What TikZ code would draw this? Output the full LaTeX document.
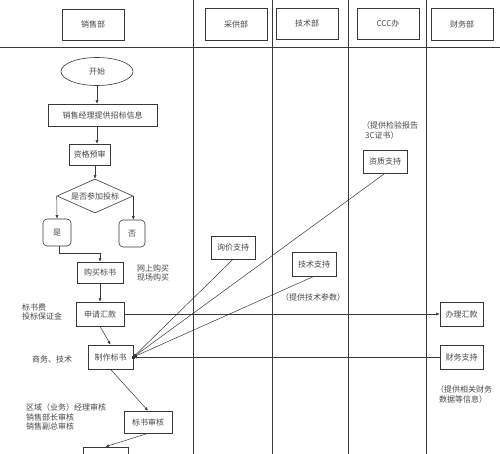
\documentclass[tikz,border=0pt]{standalone}
\usepackage{fontspec}
\newfontfamily\cjk{Noto Sans CJK SC}
\usetikzlibrary{shapes.geometric,arrows.meta}
\definecolor{ln}{gray}{0.22}
\definecolor{tx}{gray}{0.28}
\tikzset{
  every node/.style={font=\cjk\fontsize{8}{9.6}\selectfont, text=tx},
  box/.style={draw=ln, line width=0.6pt, inner sep=0pt, align=center},
  lane/.style={draw=ln, line width=0.7pt},
  conn/.style={draw=ln, line width=0.5pt},
  arr/.style={conn, -{Latex[length=3.5pt,width=3pt]}},
  note/.style={inner sep=0pt, align=left},
}
\begin{document}
\begin{tikzpicture}[x=1pt,y=-1pt]
\useasboundingbox (0,0) rectangle (500,454);
\clip (0,0) rectangle (500,454);
\fill[white] (0,0) rectangle (500,454);
% lanes
\coordinate (l1t) at (193,0); \coordinate (l1b) at (193,454);
\coordinate (l2t) at (272,0); \coordinate (l2b) at (272,454);
\coordinate (l3t) at (348,0); \coordinate (l3b) at (348,454);
\coordinate (l4t) at (426,0); \coordinate (l4b) at (426,454);
\coordinate (hl) at (0,47.5); \coordinate (hr) at (500,47.5);
\draw[lane] (l1t) -- (l1b);
\draw[lane] (l2t) -- (l2b);
\draw[lane] (l3t) -- (l3b);
\draw[lane] (l4t) -- (l4b);
\draw[lane] (hl) -- (hr);
% headers
\node[box, minimum width=62pt, minimum height=31pt] (h1) at (93,24.5) {销售部};
\node[box, minimum width=62pt, minimum height=32pt] (h2) at (236,24) {采供部};
\node[box, minimum width=62pt, minimum height=31pt] (h3) at (307,23.5) {技术部};
\node[box, minimum width=62pt, minimum height=31pt] (h4) at (388,23.5) {CCC办};
\node[box, minimum width=62pt, minimum height=32pt] (h5) at (462,24) {财务部};
% sales lane
\node[box, ellipse, minimum width=72pt, minimum height=28pt] (start) at (97,71.5) {开始};
\node[box, minimum width=109pt, minimum height=22pt] (n1) at (102.5,115) {销售经理提供招标信息};
\node[box, minimum width=41pt, minimum height=21pt] (n2) at (89.5,154.5) {资格预审};
\node[box, diamond, aspect=2.2, minimum width=76pt, minimum height=34pt] (d) at (95,196) {是否参加投标};
\node[box, rounded corners=4pt, minimum width=28pt, minimum height=27pt] (yes) at (57,232.5) {是};
\node[box, rounded corners=4pt, minimum width=26pt, minimum height=27pt] (no) at (132,233.5) {否};
\node[box, minimum width=46pt, minimum height=21pt] (n3) at (100,272.5) {购买标书};
\node[box, minimum width=48pt, minimum height=24pt] (n4) at (100,314) {申请汇款};
\node[box, minimum width=45pt, minimum height=24pt] (n5) at (110.5,357) {制作标书};
\node[box, minimum width=48pt, minimum height=22pt] (n6) at (148,422) {标书审核};
\node[box, minimum width=45pt, minimum height=24pt] (n7) at (105.5,459) {};
% other lanes
\node[box, minimum width=44pt, minimum height=23pt] (s1) at (233,247.5) {询价支持};
\node[box, minimum width=44pt, minimum height=23pt] (s2) at (385,161.5) {资质支持};
\node[box, minimum width=44pt, minimum height=24pt] (s3) at (314,264) {技术支持};
\node[box, minimum width=43pt, minimum height=24pt] (s4) at (461.5,314) {办理汇款};
\node[box, minimum width=43pt, minimum height=24pt] (s5) at (461.5,357) {财务支持};
% notes
\node[note, align=center] (t1) at (153,273) {网上购买\\现场购买};
\node[note, anchor=west] (t2) at (22,312) {标书费\\投标保证金};
\node[note] (t3) at (52,359) {商务、技术};
\node[note, anchor=west] (t4) at (26,417) {区域（业务）经理审核\\销售部长审核\\销售副总审核};
\node[note, anchor=west] (t5) at (362,130.5) {（提供检验报告\\\hspace*{3pt}3C证书）};
\node[note] (t6) at (313,297) {（提供技术参数）};
\node[note, anchor=west] (t7) at (436,394.5) {（提供相关财务\\\hspace*{3pt}数据等信息）};
% connectors
\draw[arr] (start.south) -- (n1.north -| start.south);
\draw[arr] (n1.south -| start.south) -- (n2.north -| start.south);
\draw[arr] (n2.south -| d.north) -- (d.north);
\draw[arr] (d.west) -- (yes.north);
\draw[arr] (d.east) -- (d.east |- no.north);
\draw[arr] ([xshift=2pt]yes.south) -- ++(0,7) -| (n3.north);
\draw[arr] (n3.south) -- (n4.north);
\draw[arr] (n4.south) -- (n5.north);
\draw[arr] (n4.east) -- (s4.west);
\draw[arr] (s1.south) -- (n5.east);
\draw[arr] (s2.south) -- (n5.east);
\draw[arr] (s3.south) -- (n5.east);
\draw[arr] (s5.west) -- (n5.east);
\fill[ln] ([xshift=-1.5pt,yshift=-1.5pt]n5.east) rectangle ([xshift=1.5pt,yshift=1.5pt]n5.east);
\draw[arr] (n5.south) -- (n6.north);
\draw[arr] (n6.south) -- (n7.north);
\end{tikzpicture}
\end{document}
